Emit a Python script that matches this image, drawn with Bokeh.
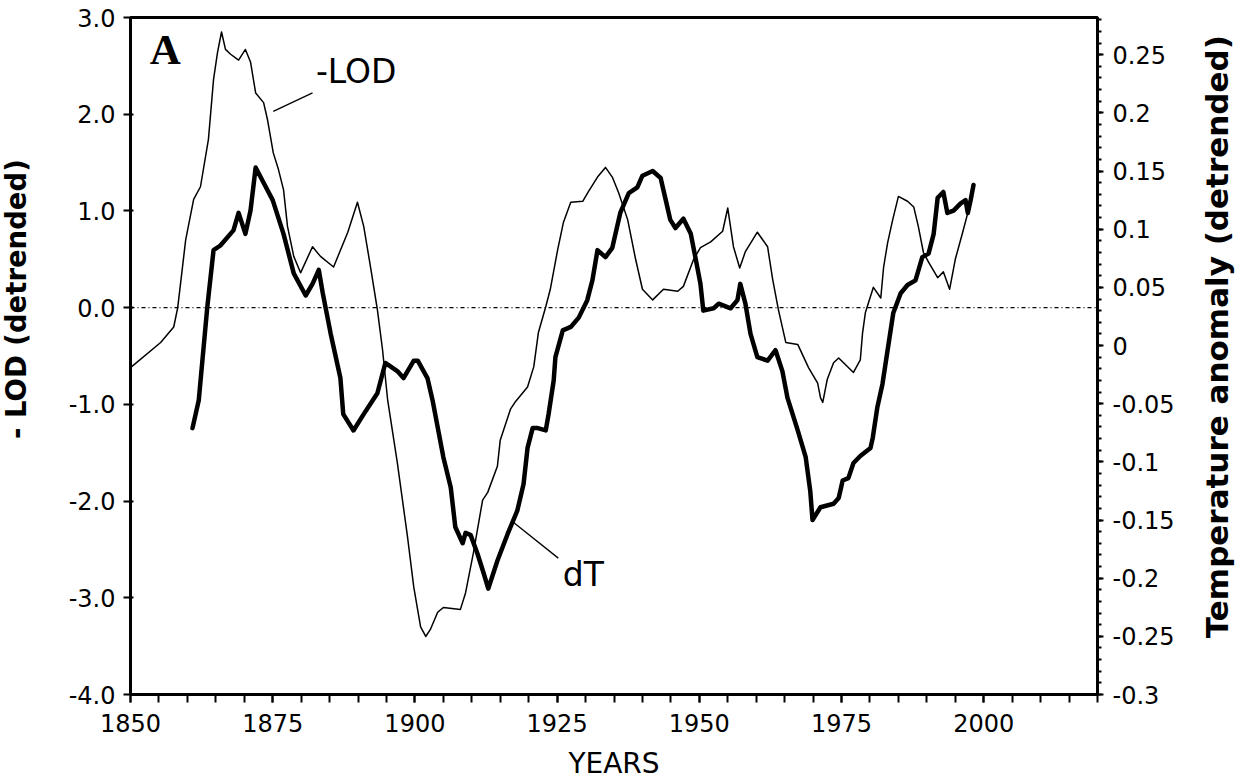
import math
from bokeh.plotting import figure
from bokeh.layouts import row
from bokeh.models import Range1d, LinearAxis, FixedTicker, Span, Label
from bokeh.embed import file_html
from bokeh.resources import INLINE

# -LOD (detrended), left axis units
lod_years = [1850.0, 1855.3, 1857.6, 1858.3, 1859.7, 1861.1, 1862.3, 1863.7, 1864.6, 1865.3,
             1866.0, 1866.7, 1867.6, 1869.0, 1870.2, 1871.1, 1872.0, 1873.4, 1874.1, 1875.1,
             1876.0, 1876.9, 1877.6, 1878.7, 1879.9, 1882.0, 1883.4, 1885.7, 1888.2, 1889.9,
             1891.0, 1892.2, 1893.4, 1894.3, 1895.2, 1896.9, 1898.7, 1899.8, 1901.0, 1901.9,
             1902.7, 1904.0, 1905.0, 1908.0, 1908.9, 1910.3, 1911.9, 1912.8, 1914.5, 1915.0,
             1916.8, 1917.7, 1919.8, 1920.9, 1921.7, 1923.0, 1923.8, 1925.1, 1926.1, 1927.4,
             1929.5, 1930.5, 1932.1, 1933.5, 1934.7, 1935.8, 1937.4, 1938.8, 1940.0, 1941.8,
             1943.7, 1946.2, 1947.2, 1949.0, 1950.2, 1952.0, 1954.1, 1955.0, 1956.0, 1957.1,
             1958.1, 1960.2, 1962.0, 1962.9, 1963.9, 1965.2, 1967.3, 1969.2, 1970.8, 1971.3,
             1971.7, 1972.5, 1973.6, 1974.5, 1977.1, 1978.3, 1978.7, 1979.2, 1980.6, 1981.9,
             1982.4, 1983.1, 1984.0, 1985.0, 1986.6, 1987.7, 1988.5, 1989.4, 1990.3, 1991.9,
             1992.9, 1994.0, 1995.0, 1996.3, 1997.2, 1998.0, 1998.2]
lod_values = [-0.62, -0.36, -0.20, 0.00, 0.70, 1.12, 1.25, 1.74, 2.36, 2.64,
              2.85, 2.67, 2.62, 2.56, 2.67, 2.54, 2.22, 2.12, 1.94, 1.60,
              1.43, 1.22, 0.84, 0.53, 0.36, 0.63, 0.53, 0.42, 0.78, 1.09,
              0.84, 0.42, -0.02, -0.43, -0.95, -1.60, -2.37, -2.89, -3.30, -3.40,
              -3.33, -3.15, -3.10, -3.12, -2.95, -2.53, -1.99, -1.91, -1.64, -1.37,
              -1.05, -0.97, -0.82, -0.61, -0.26, 0.01, 0.19, 0.60, 0.88, 1.09,
              1.10, 1.20, 1.35, 1.45, 1.35, 1.19, 0.91, 0.50, 0.19, 0.08,
              0.19, 0.17, 0.22, 0.50, 0.62, 0.68, 0.79, 1.03, 0.63, 0.41,
              0.58, 0.78, 0.63, 0.29, -0.02, -0.36, -0.38, -0.62, -0.78, -0.93,
              -0.98, -0.74, -0.57, -0.52, -0.67, -0.54, -0.26, -0.05, 0.21, 0.10,
              0.42, 0.67, 0.91, 1.15, 1.10, 1.04, 0.84, 0.57, 0.47, 0.31,
              0.37, 0.19, 0.50, 0.78, 0.98, 1.22, 1.29]

# dT temperature anomaly (detrended), right axis units
dt_years = [1860.9, 1862.0, 1863.5, 1864.6, 1865.8, 1868.1, 1869.0, 1870.2, 1871.1, 1872.0,
            1873.4, 1875.0, 1876.9, 1878.7, 1880.8, 1882.0, 1883.1, 1883.8, 1885.2, 1886.9,
            1887.4, 1889.2, 1891.0, 1893.4, 1894.8, 1896.9, 1898.0, 1899.8, 1900.5, 1902.2,
            1903.1, 1905.0, 1906.3, 1907.1, 1908.4, 1908.9, 1909.8, 1911.0, 1912.1, 1912.9,
            1914.5, 1916.3, 1918.0, 1919.1, 1919.8, 1920.7, 1921.6, 1923.0, 1923.5, 1924.4,
            1924.7, 1926.0, 1927.4, 1928.8, 1930.3, 1931.2, 1932.1, 1933.5, 1934.7, 1936.1,
            1937.6, 1939.1, 1940.0, 1941.8, 1943.2, 1944.1, 1944.9, 1945.8, 1947.2, 1948.5,
            1949.3, 1950.2, 1950.7, 1952.5, 1953.4, 1955.5, 1956.7, 1957.2, 1958.1, 1959.0,
            1960.2, 1962.0, 1963.4, 1964.6, 1965.5, 1967.3, 1968.7, 1969.5, 1969.9, 1971.3,
            1973.6, 1974.5, 1975.2, 1976.2, 1977.1, 1978.3, 1980.1, 1980.5, 1981.3, 1982.2,
            1983.1, 1984.1, 1985.4, 1986.6, 1988.0, 1989.2, 1990.3, 1991.2, 1991.9, 1992.9,
            1993.6, 1994.7, 1995.9, 1996.8, 1997.2, 1997.7, 1998.2]
dt_values = [-0.071, -0.047, 0.033, 0.082, 0.086, 0.099, 0.114, 0.096, 0.116, 0.153,
             0.140, 0.125, 0.096, 0.062, 0.043, 0.053, 0.065, 0.045, 0.010, -0.028,
             -0.059, -0.073, -0.059, -0.041, -0.015, -0.022, -0.028, -0.013, -0.013, -0.028,
             -0.047, -0.096, -0.122, -0.156, -0.170, -0.161, -0.163, -0.179, -0.196, -0.209,
             -0.185, -0.162, -0.142, -0.119, -0.088, -0.071, -0.071, -0.073, -0.059, -0.030,
             -0.010, 0.013, 0.016, 0.024, 0.039, 0.056, 0.082, 0.076, 0.084, 0.114,
             0.131, 0.136, 0.146, 0.150, 0.144, 0.125, 0.108, 0.101, 0.109, 0.096,
             0.076, 0.053, 0.030, 0.032, 0.036, 0.032, 0.039, 0.053, 0.036, 0.010,
             -0.010, -0.013, -0.004, -0.022, -0.045, -0.073, -0.096, -0.125, -0.150, -0.139,
             -0.136, -0.131, -0.116, -0.114, -0.101, -0.095, -0.088, -0.079, -0.053, -0.033,
             -0.004, 0.028, 0.045, 0.052, 0.056, 0.076, 0.079, 0.096, 0.127, 0.132,
             0.114, 0.116, 0.122, 0.125, 0.114, 0.125, 0.138]

# axes ticks and labels
x_major_ticks = [1850, 1875, 1900, 1925, 1950, 1975, 2000]
x_minor_ticks = list(range(1850, 2021, 5))
left_ticks = [-4.0, -3.0, -2.0, -1.0, 0.0, 1.0, 2.0, 3.0]
left_tick_labels = ["-4.0", "-3.0", "-2.0", "-1.0", "0.0", "1.0", "2.0", "3.0"]
right_ticks = [-0.3, -0.25, -0.2, -0.15, -0.1, -0.05, 0.0, 0.05, 0.1, 0.15, 0.2, 0.25]
right_tick_labels = ["-0.3", "-0.25", "-0.2", "-0.15", "-0.1", "-0.05", "0", "0.05", "0.1", "0.15", "0.2", "0.25"]
right_minor_ticks = [round(-0.3 + 0.01 * i, 2) for i in range(59)]
left_title = "- LOD  (detrended)"
right_title = "Temperature anomaly (detrended)"

FONT = "DejaVu Sans"
H = 778
LW, RW = 40, 60

p = figure(frame_width=967, frame_height=677,
           x_range=Range1d(1850, 2020), y_range=Range1d(-4.0, 3.0),
           output_backend="svg", toolbar_location=None,
           min_border_left=90, min_border_right=90, min_border_top=17, min_border_bottom=84,
           background_fill_color="white", border_fill_color="white")
p.extra_y_ranges = {"temp": Range1d(-0.3, 0.282)}
p.grid.visible = False
p.outline_line_color = "black"
p.outline_line_width = 3

# bottom axis
xa = p.xaxis[0]
xa.ticker = FixedTicker(ticks=x_major_ticks, minor_ticks=x_minor_ticks)
xa.axis_label = "YEARS"
xa.axis_label_text_font = FONT
xa.axis_label_text_font_size = "28px"
xa.axis_label_text_font_style = "normal"
xa.axis_label_text_color = "black"
xa.axis_label_standoff = 12
xa.major_label_text_font = FONT
xa.major_label_text_font_size = "24px"
xa.major_label_text_color = "black"
xa.major_label_standoff = 11
xa.axis_line_width = 3
xa.axis_line_color = "black"
xa.major_tick_out = 8
xa.major_tick_in = 0
xa.minor_tick_out = 8
xa.minor_tick_in = 0
xa.major_tick_line_width = 2
xa.minor_tick_line_width = 2

# left axis
ya = p.yaxis[0]
ya.ticker = FixedTicker(ticks=left_ticks, minor_ticks=[])
ya.major_label_overrides = dict(zip(left_ticks, left_tick_labels))
ya.major_label_text_font = FONT
ya.major_label_text_font_size = "24px"
ya.major_label_text_color = "black"
ya.major_label_standoff = 8
ya.axis_line_width = 2
ya.major_tick_out = 7
ya.major_tick_in = 3
ya.major_tick_line_width = 2
ya.minor_tick_out = 0
ya.minor_tick_in = 0

# right axis
ra = LinearAxis(y_range_name="temp",
                ticker=FixedTicker(ticks=right_ticks, minor_ticks=right_minor_ticks))
ra.major_label_overrides = dict(zip(right_ticks, right_tick_labels))
ra.major_label_text_font = FONT
ra.major_label_text_font_size = "24px"
ra.major_label_text_color = "black"
ra.major_label_standoff = 9
ra.axis_line_width = 3
ra.major_tick_out = 6
ra.major_tick_in = 0
ra.minor_tick_out = 4
ra.minor_tick_in = 0
ra.major_tick_line_width = 2
ra.minor_tick_line_width = 2
p.add_layout(ra, "right")

# zero reference line
p.add_layout(Span(location=0, dimension="width", line_color="black",
                  line_width=1.3, line_dash="4 3 1 3"))

# series
p.line(lod_years, lod_values, line_color="black", line_width=1.5, line_join="round")
p.line(dt_years, dt_values, y_range_name="temp", line_color="black", line_width=4.5,
       line_join="round", line_cap="round")

# annotations
p.segment(x0=[1882.0, 1917.3], y0=[2.22, -2.22], x1=[1875.1, 1925.2], y1=[2.03, -2.59],
          line_color="black", line_width=1.3)
p.add_layout(Label(x=1882.6, y=2.44, text="-LOD", text_font=FONT, text_font_size="33px",
                   text_color="black", text_baseline="alphabetic"))
p.add_layout(Label(x=1926.0, y=-2.76, text="dT", text_font=FONT, text_font_size="33px",
                   text_color="black", text_baseline="alphabetic"))
p.add_layout(Label(x=1853.4, y=2.67, text="A", text_font="Liberation Serif",
                   text_font_size="43px", text_font_style="bold",
                   text_color="black", text_baseline="alphabetic"))


def title_strip(width, text, tx, ty, size):
    f = figure(width=width, height=H, x_range=Range1d(0, width), y_range=Range1d(0, H),
               output_backend="svg", toolbar_location=None,
               x_axis_type=None, y_axis_type=None,
               min_border=0, min_border_left=0, min_border_right=0,
               min_border_top=0, min_border_bottom=0,
               background_fill_color="white", border_fill_color="white")
    f.outline_line_color = None
    f.grid.visible = False
    f.add_layout(Label(x=tx, y=ty, text=text, angle=math.pi / 2,
                       text_font=FONT, text_font_size=size, text_font_style="bold",
                       text_color="black", text_align="center", text_baseline="middle"))
    return f


left_strip = title_strip(LW, left_title, 15, H - 320, "27.5px")
right_strip = title_strip(RW, right_title, 29, H - 369, "31px")

layout = row(left_strip, p, right_strip, spacing=0)

open("out.html", "w").write(file_html(layout, INLINE))
